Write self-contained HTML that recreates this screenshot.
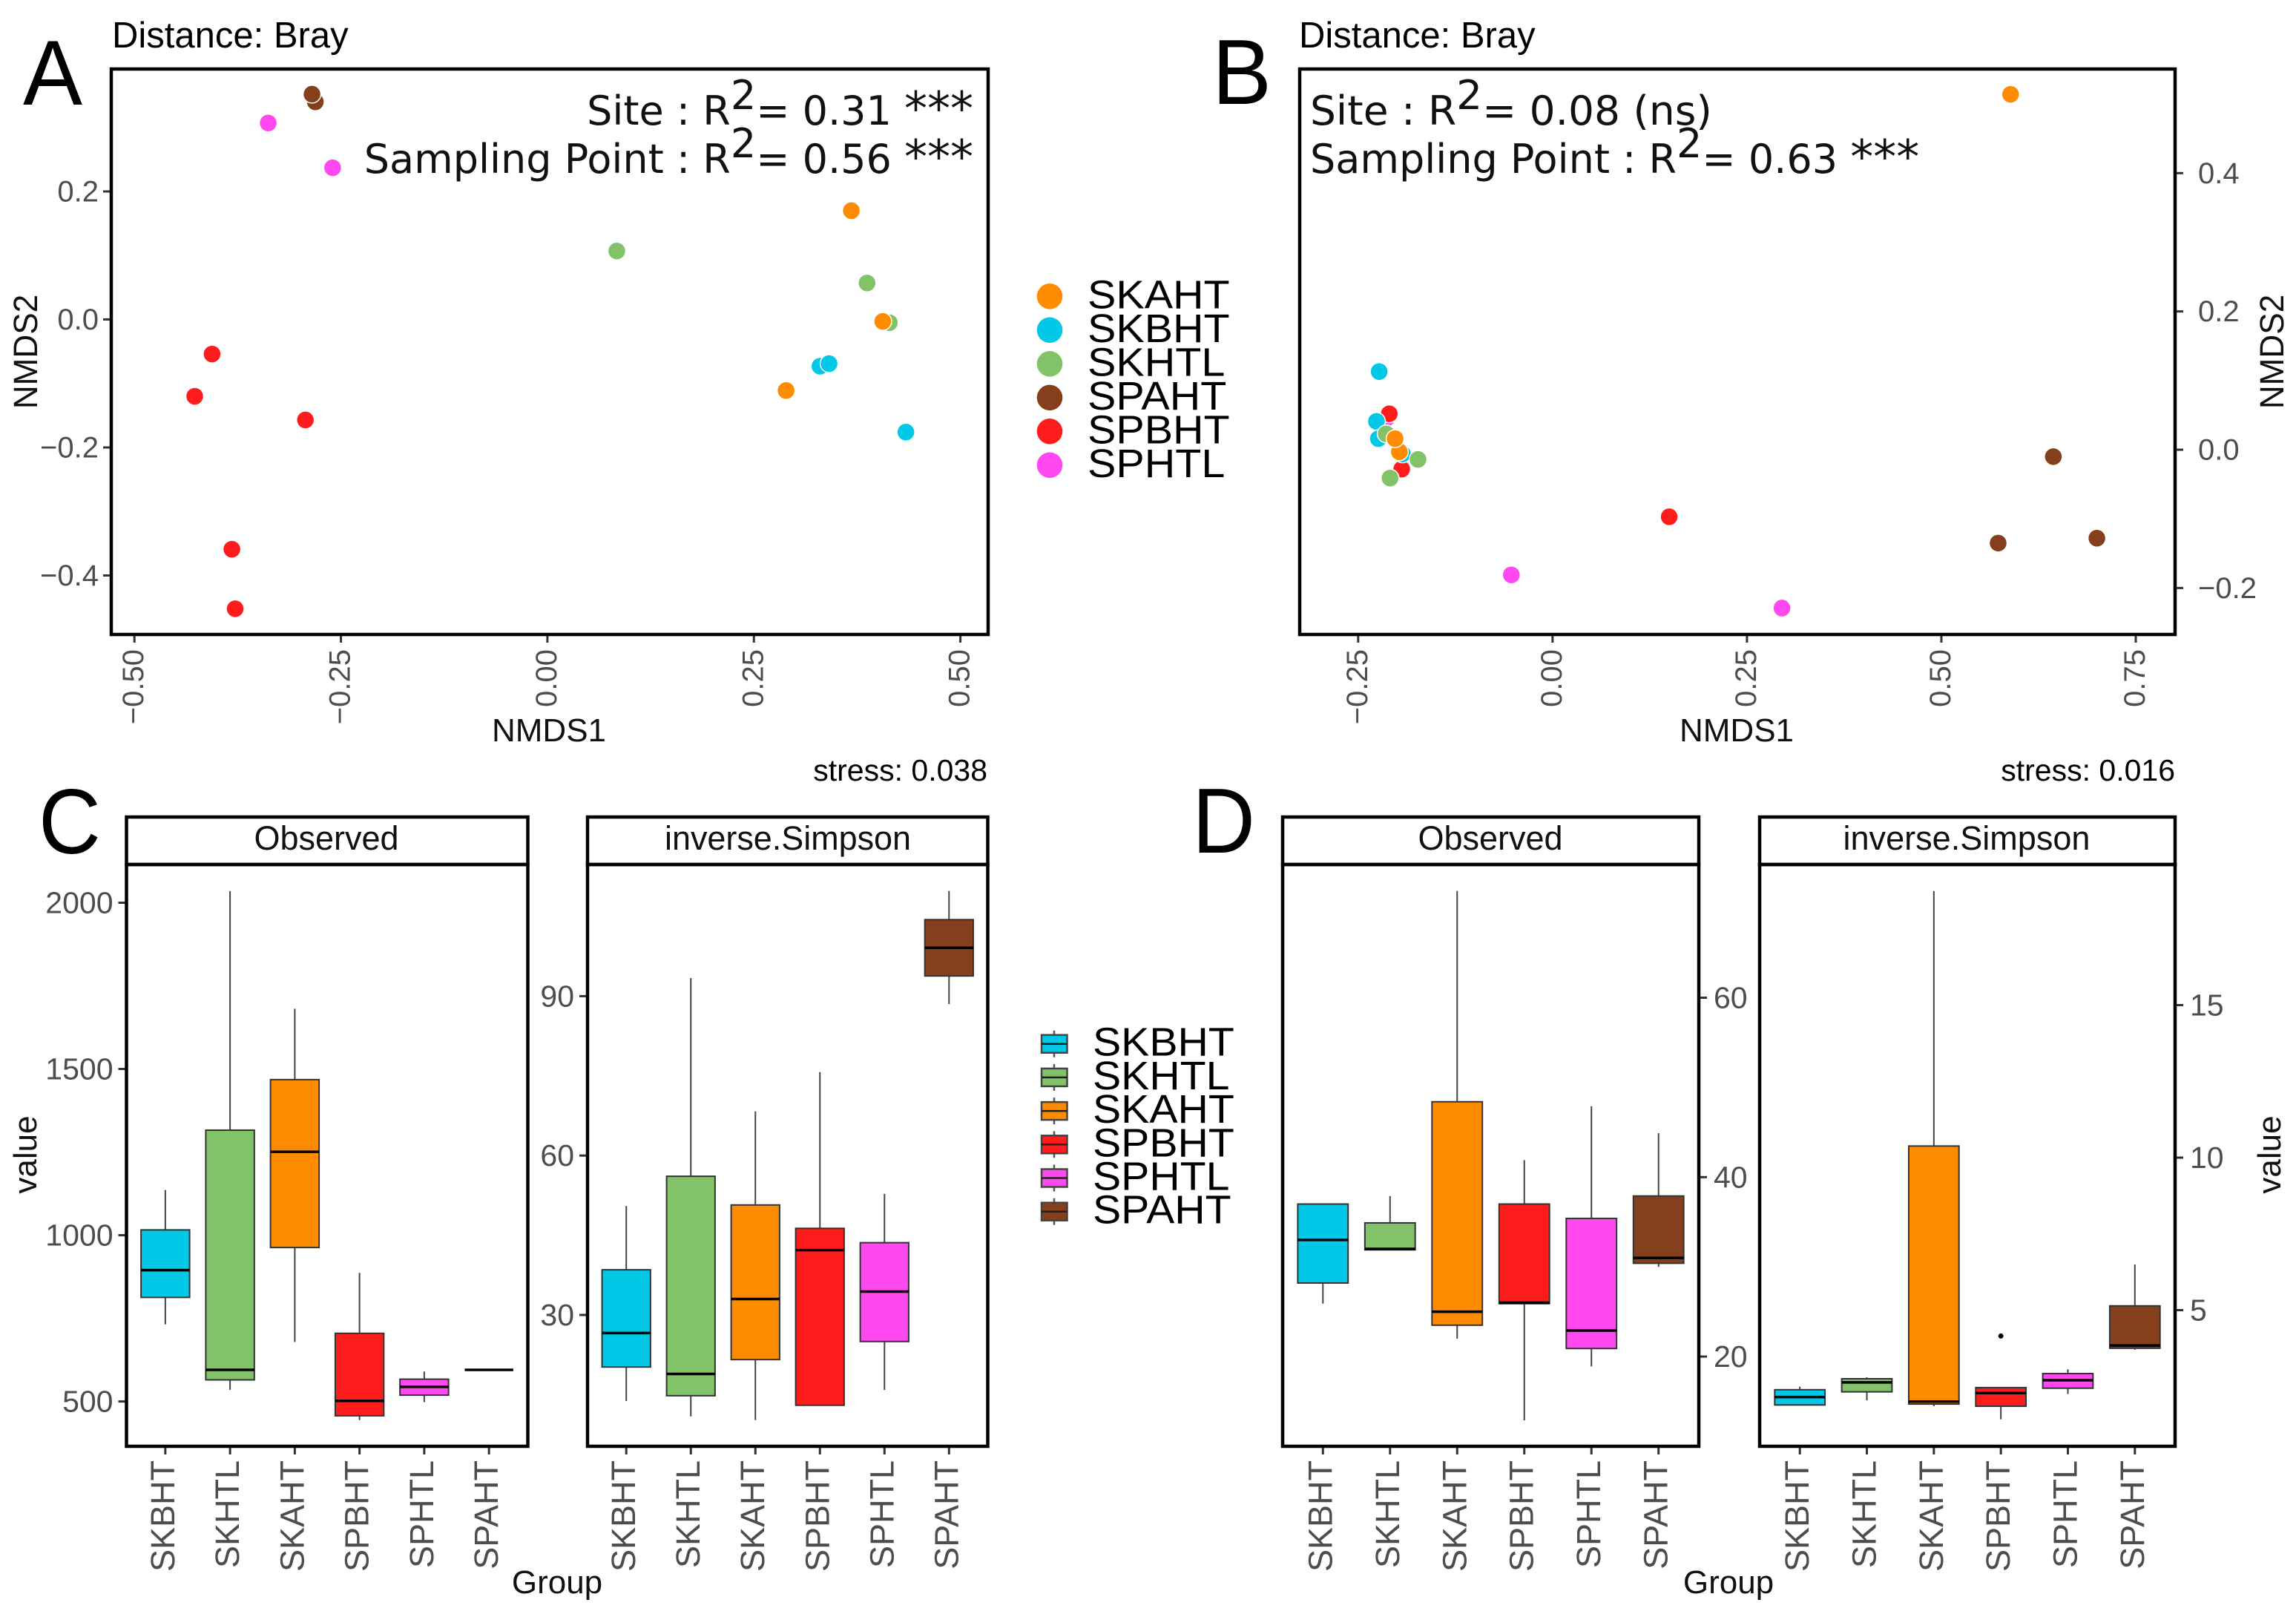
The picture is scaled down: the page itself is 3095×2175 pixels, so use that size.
<!DOCTYPE html>
<html lang="en">
<head>
<meta charset="utf-8">
<title>NMDS ordination and alpha diversity panels</title>
<style>
html,body{margin:0;padding:0;background:#fff}
svg{display:block}
text{font-family:"Liberation Sans",Arial,sans-serif;fill:#000}
.ann{font-family:"DejaVu Sans",sans-serif;font-size:54px;fill:#111}
.ast{font-size:62px}
.letter{font-size:124px}
.title{font-size:49px}
.axt{font-size:44px;fill:#111}
.stress{font-size:41px}
.strip{font-size:45px;text-anchor:middle;fill:#111}
</style>
</head>
<body>
<svg id="figure" xmlns="http://www.w3.org/2000/svg" width="3095" height="2175" viewBox="0 0 3095 2175">
<rect x="0" y="0" width="3095" height="2175" fill="#fff"/>

<text class="letter" x="31" y="141" textLength="80" lengthAdjust="spacingAndGlyphs">A</text>
<text class="letter" x="1634" y="140" textLength="80" lengthAdjust="spacingAndGlyphs">B</text>
<text class="letter" x="52" y="1150" textLength="84" lengthAdjust="spacingAndGlyphs">C</text>
<text class="letter" x="1607" y="1149" textLength="85" lengthAdjust="spacingAndGlyphs">D</text>

<text class="title" x="151" y="64">Distance: Bray</text>
<text class="title" x="1751" y="64">Distance: Bray</text>

<text class="ann" x="1312" y="168" text-anchor="end">Site : R<tspan dy="-21">2</tspan><tspan dy="21">= 0.31 </tspan><tspan class="ast">***</tspan></text>
<text class="ann" x="1312" y="233" text-anchor="end">Sampling Point : R<tspan dy="-21">2</tspan><tspan dy="21">= 0.56 </tspan><tspan class="ast">***</tspan></text>
<text class="ann" transform="translate(1766,168) scale(1.018,1)">Site : R<tspan dy="-21">2</tspan><tspan dy="21">= 0.08 (ns)</tspan></text>
<text class="ann" x="1766" y="233">Sampling Point : R<tspan dy="-21">2</tspan><tspan dy="21">= 0.63 </tspan><tspan class="ast">***</tspan></text>

<text class="axt" x="740" y="999" text-anchor="middle">NMDS1</text>
<text class="axt" x="2341" y="999" text-anchor="middle">NMDS1</text>
<text class="axt" transform="translate(50,474) rotate(-90) scale(.98,1)" text-anchor="middle" style="font-size:45px">NMDS2</text>
<text class="axt" transform="translate(3078,474) rotate(-90) scale(.98,1)" text-anchor="middle" style="font-size:45px">NMDS2</text>
<text class="stress" x="1331" y="1052" text-anchor="end">stress: 0.038</text>
<text class="stress" x="2932" y="1052" text-anchor="end">stress: 0.016</text>

<text class="strip" x="440" y="1145">Observed</text>
<text class="strip" x="1062" y="1145" textLength="332" lengthAdjust="spacingAndGlyphs">inverse.Simpson</text>
<text class="strip" x="2009" y="1145">Observed</text>
<text class="strip" x="2651" y="1145" textLength="333" lengthAdjust="spacingAndGlyphs">inverse.Simpson</text>

<text class="axt" transform="translate(49,1556) rotate(-90)" text-anchor="middle">value</text>
<text class="axt" transform="translate(3074,1556) rotate(-90)" text-anchor="middle">value</text>
<text class="axt" x="751" y="2147" text-anchor="middle">Group</text>
<text class="axt" x="2330" y="2147" text-anchor="middle">Group</text>

<g id="layer"></g>
</svg>

<script>
// ---------- shared data ----------
const groupColors = { SKAHT:'#FF8C00', SKBHT:'#00C8E6', SKHTL:'#82C269', SPAHT:'#843F1C', SPBHT:'#FF1C1C', SPHTL:'#FF48F0' };
const scatterLegendGroups = ['SKAHT','SKBHT','SKHTL','SPAHT','SPBHT','SPHTL'];
const boxCategories = ['SKBHT','SKHTL','SKAHT','SPBHT','SPHTL','SPAHT'];

// ---------- panel A ----------
const scatterAGroups = ['SPHTL','SPHTL','SPAHT','SPAHT','SKHTL','SKHTL','SKHTL','SKAHT','SKAHT','SKAHT','SKBHT','SKBHT','SKBHT','SPBHT','SPBHT','SPBHT','SPBHT','SPBHT'];
const scatterAX = [-0.338,-0.260,-0.281,-0.285,0.084,0.387,0.414,0.368,0.406,0.289,0.330,0.341,0.434,-0.406,-0.427,-0.293,-0.382,-0.378];
const scatterAY = [0.307,0.237,0.340,0.352,0.107,0.057,-0.005,0.170,-0.003,-0.111,-0.073,-0.069,-0.176,-0.054,-0.120,-0.157,-0.359,-0.452];
const scatterAXTicks = [-0.5,-0.25,0,0.25,0.5];
const scatterAXLabels = ['\u22120.50','\u22120.25','0.00','0.25','0.50'];
const scatterAYTicks = [0.2,0,-0.2,-0.4];
const scatterAYLabels = ['0.2','0.0','\u22120.2','\u22120.4'];

// ---------- panel B ----------
const scatterBGroups = ['SPHTL','SPHTL','SPHTL','SPBHT','SPBHT','SPBHT','SKBHT','SKBHT','SKBHT','SKBHT','SKHTL','SKHTL','SKHTL','SKAHT','SKAHT','SKAHT','SPAHT','SPAHT','SPAHT'];
const scatterBX = [-0.214,-0.053,0.295,-0.210,-0.194,0.150,-0.223,-0.2265,-0.224,-0.193,-0.214,-0.173,-0.209,0.589,-0.197,-0.2025,0.644,0.573,0.700];
const scatterBY = [0.045,-0.181,-0.229,0.052,-0.028,-0.097,0.113,0.041,0.016,-0.006,0.023,-0.014,-0.041,0.514,-0.003,0.016,-0.010,-0.135,-0.128];
const scatterBXTicks = [-0.25,0,0.25,0.5,0.75];
const scatterBXLabels = ['\u22120.25','0.00','0.25','0.50','0.75'];
const scatterBYTicks = [0.4,0.2,0,-0.2];
const scatterBYLabels = ['0.4','0.2','0.0','\u22120.2'];

// ---------- panel C, Observed ----------
const boxCObsLow  = [732,535,679,444,498,595];
const boxCObsQ1   = [813,565,963,457,519,595];
const boxCObsMed  = [895,595,1251,502,544,595];
const boxCObsQ3   = [1016,1316,1468,705,567,595];
const boxCObsHigh = [1136,2035,1681,887,590,595];
const boxCObsTicks = [500,1000,1500,2000];
const boxCObsLabels = ['500','1000','1500','2000'];

// ---------- panel C, inverse Simpson ----------
const boxCSimLow  = [13.8,10.9,10.2,13,15.9,88.5];
const boxCSimQ1   = [20.2,14.8,21.6,13,25,93.8];
const boxCSimMed  = [26.6,18.9,33,42.2,34.4,99.1];
const boxCSimQ3   = [38.5,56.1,50.7,46.3,43.6,104.4];
const boxCSimHigh = [50.5,93.4,68.3,75.7,52.8,109.8];
const boxCSimTicks = [30,60,90];
const boxCSimLabels = ['30','60','90'];

// ---------- panel D, Observed ----------
const boxDObsLow  = [25.9,31.9,22,12.9,18.9,30];
const boxDObsQ1   = [28.2,31.9,23.5,25.9,20.9,30.4];
const boxDObsMed  = [33,32,25,26,22.9,31];
const boxDObsQ3   = [37,34.9,48.4,37,35.4,37.9];
const boxDObsHigh = [37,37.9,71.9,41.9,47.9,44.9];
const boxDObsTicks = [20,40,60];
const boxDObsLabels = ['20','40','60'];

// ---------- panel D, inverse Simpson ----------
const boxDSimLow  = [1.89,2.04,1.85,1.42,2.25,3.7];
const boxDSimQ1   = [1.89,2.32,1.92,1.85,2.44,3.75];
const boxDSimMed  = [2.15,2.63,2.0,2.28,2.70,3.84];
const boxDSimQ3   = [2.39,2.75,10.38,2.46,2.92,5.14];
const boxDSimHigh = [2.49,2.8,18.74,2.46,3.06,6.5];
const boxDSimOutliers = [null,null,null,4.15,null,null];
const boxDSimTicks = [5,10,15];
const boxDSimLabels = ['5','10','15'];

// ---------- helpers ----------
const NS = 'http://www.w3.org/2000/svg';
const layer = document.getElementById('layer');
const TICK = '#4d4d4d';

function mk(parent, tag, attrs, txt) {
  const e = document.createElementNS(NS, tag);
  for (const k in attrs) e.setAttribute(k, attrs[k]);
  if (txt !== undefined) e.textContent = txt;
  parent.appendChild(e);
  return e;
}
function linear(d0, d1, r0, r1) {
  return v => r0 + (v - d0) * (r1 - r0) / (d1 - d0);
}
function tickMark(parent, x1, y1, x2, y2) {
  const t = mk(parent, 'line', { x1, y1, x2, y2, stroke: '#333', 'stroke-width': 3 });
  
  
}
function frame(parent, l, t, r, b, name) {
  const f = mk(parent, 'rect', { x: l, y: t, width: r - l, height: b - t, fill: 'none', stroke: '#000', 'stroke-width': 4.5 });
  
  
}

// ---------- scatter panels ----------
function drawScatter(id, box, xs, ys, groups, xT, xL, yT, yL, yRight) {
  const g = mk(layer, 'g', {});
  
  
  groups.forEach((grp, i) => {
    const c = mk(g, 'circle', { cx: box.x(xs[i]), cy: box.y(ys[i]), r: 12, fill: groupColors[grp], stroke: '#fff', 'stroke-width': 1.5 });
    
    
  });
  xT.forEach((v, i) => {
    const x = box.x(v);
    tickMark(g, x, box.b, x, box.b + 11);
    const t = mk(g, 'text', { transform: `translate(${x + 12},875) rotate(-90)`, 'text-anchor': 'end', 'font-size': 40, style: `fill:${TICK}` }, xL[i]);
    
    
  });
  yT.forEach((v, i) => {
    const y = box.y(v);
    if (yRight) {
      tickMark(g, box.r, y, box.r + 11, y);
    } else {
      tickMark(g, box.l - 11, y, box.l, y);
    }
    const attrs = yRight
      ? { x: box.r + 31, y: y + 13.5, 'text-anchor': 'start' }
      : { x: box.l - 17, y: y + 13.5, 'text-anchor': 'end' };
    attrs['font-size'] = 40;
    attrs.style = `fill:${TICK}`;
    const t = mk(g, 'text', attrs, yL[i]);
    
    
  });
  frame(g, box.l, box.t, box.r, box.b, 'panel-border-' + id);
}

const boxA = { l:150, r:1332, t:93, b:855, x:linear(-0.5,0.5,181.2,1294.6), y:linear(-0.4,0.2,775.5,258) };
const boxB = { l:1752, r:2932, t:93, b:855, x:linear(-0.25,0.75,1830.8,2879), y:linear(-0.2,0.4,792.4,233.3) };
drawScatter('a', boxA, scatterAX, scatterAY, scatterAGroups, scatterAXTicks, scatterAXLabels, scatterAYTicks, scatterAYLabels, false);
drawScatter('b', boxB, scatterBX, scatterBY, scatterBGroups, scatterBXTicks, scatterBXLabels, scatterBYTicks, scatterBYLabels, true);

// ---------- box panels ----------
function drawBox(id, box, low, q1, med, q3, high, outliers, ticks, labels, yRight) {
  const g = mk(layer, 'g', {});
  
  
  const sp = (box.r - box.l) / 6.2;
  const cx = i => box.l + (i + 0.6) * sp;
  const bw = sp * 0.75;
  boxCategories.forEach((cat, i) => {
    const x = cx(i);
    const col = groupColors[cat];
    const w = mk(g, 'line', { x1: x, x2: x, y1: box.y(low[i]), y2: box.y(high[i]), stroke: '#444', 'stroke-width': 2 });
    
    
    const top = box.y(q3[i]);
    const bot = box.y(q1[i]);
    const r = mk(g, 'rect', { x: x - bw / 2, y: top, width: bw, height: Math.max(bot - top, 0), fill: col, stroke: '#333', 'stroke-width': 2 });
    
    
    const m = mk(g, 'line', { x1: x - bw / 2, x2: x + bw / 2, y1: box.y(med[i]), y2: box.y(med[i]), stroke: '#000', 'stroke-width': 3.5 });
    
    
    if (outliers && outliers[i] !== null) {
      const o = mk(g, 'circle', { cx: x, cy: box.y(outliers[i]), r: 3.5, fill: '#000' });
      
      
    }
    tickMark(g, x, box.b, x, box.b + 11);
    const t = mk(g, 'text', { transform: `translate(${x + 12},1968) rotate(-90)`, 'text-anchor': 'end', 'font-size': 45, style: `fill:${TICK}` }, cat);
    
    
  });
  ticks.forEach((v, i) => {
    const y = box.y(v);
    if (yRight) {
      tickMark(g, box.r, y, box.r + 11, y);
    } else {
      tickMark(g, box.l - 11, y, box.l, y);
    }
    const attrs = yRight
      ? { x: box.r + 20, y: y + 14, 'text-anchor': 'start' }
      : { x: box.l - 18, y: y + 14, 'text-anchor': 'end' };
    attrs['font-size'] = 41;
    attrs.style = `fill:${TICK}`;
    const t = mk(g, 'text', attrs, labels[i]);
    
    
  });
  frame(g, box.l, box.t, box.r, box.b, 'panel-border-' + id);
  frame(g, box.l, box.stripTop, box.r, box.t, 'strip-border-' + id);
}

const STRIP_TOP = 1101, P_TOP = 1165, P_BOT = 1949;
drawBox('c-observed', { l:170.5, r:711.5, t:P_TOP, b:P_BOT, stripTop:STRIP_TOP, y:linear(500,2000,1888.6,1216.5) },
  boxCObsLow, boxCObsQ1, boxCObsMed, boxCObsQ3, boxCObsHigh, null, boxCObsTicks, boxCObsLabels, false);
drawBox('c-inverse-simpson', { l:792, r:1331.5, t:P_TOP, b:P_BOT, stripTop:STRIP_TOP, y:linear(30,90,1772,1342.4) },
  boxCSimLow, boxCSimQ1, boxCSimMed, boxCSimQ3, boxCSimHigh, null, boxCSimTicks, boxCSimLabels, false);
drawBox('d-observed', { l:1729, r:2290, t:P_TOP, b:P_BOT, stripTop:STRIP_TOP, y:linear(20,60,1828.1,1344.5) },
  boxDObsLow, boxDObsQ1, boxDObsMed, boxDObsQ3, boxDObsHigh, null, boxDObsTicks, boxDObsLabels, true);
drawBox('d-inverse-simpson', { l:2372, r:2932, t:P_TOP, b:P_BOT, stripTop:STRIP_TOP, y:linear(5,15,1765.5,1354.5) },
  boxDSimLow, boxDSimQ1, boxDSimMed, boxDSimQ3, boxDSimHigh, boxDSimOutliers, boxDSimTicks, boxDSimLabels, true);

// ---------- legends ----------
const legendScatter = mk(layer, 'g', {});


scatterLegendGroups.forEach((grp, i) => {
  const cy = 399.3 + i * 45.5;
  const c = mk(legendScatter, 'circle', { cx: 1415, cy, r: 17.3, fill: groupColors[grp] });
  
  
  const t = mk(legendScatter, 'text', { transform: `translate(1466,${cy + 16}) scale(1.065,1)`, 'font-size': 54 }, grp);
  
  
});

const legendBox = mk(layer, 'g', {});


boxCategories.forEach((cat, i) => {
  const cy = 1406.7 + i * 45.2;
  const w = mk(legendBox, 'line', { x1: 1421, x2: 1421, y1: cy - 18, y2: cy + 18, stroke: '#555', 'stroke-width': 2.5 });
  
  
  const r = mk(legendBox, 'rect', { x: 1404, y: cy - 12, width: 34.5, height: 24, fill: groupColors[cat], stroke: '#444', 'stroke-width': 2.5 });
  
  
  const m = mk(legendBox, 'line', { x1: 1404, x2: 1438.5, y1: cy, y2: cy, stroke: '#222', 'stroke-width': 2.5 });
  
  
  const t = mk(legendBox, 'text', { transform: `translate(1473,${cy + 16}) scale(1.06,1)`, 'font-size': 54 }, cat);
  
  
});
</script>
</body>
</html>
